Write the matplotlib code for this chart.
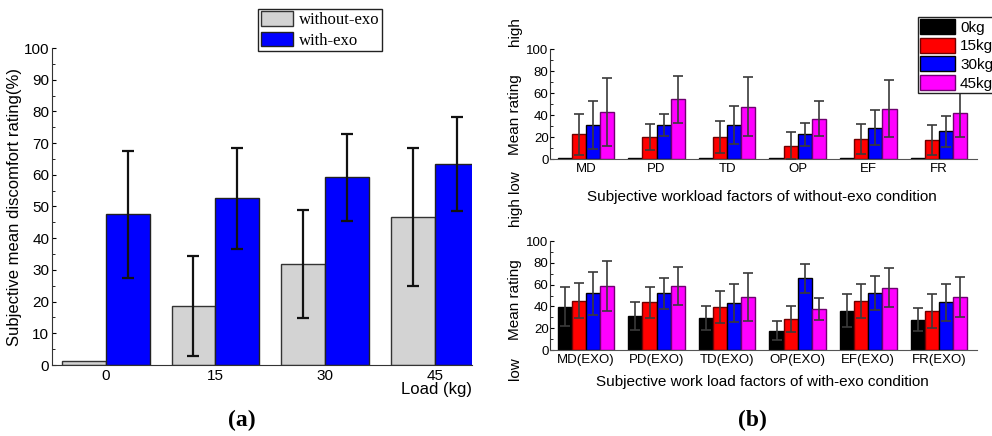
import numpy as np
import matplotlib
matplotlib.use('Agg')
import matplotlib.pyplot as plt
from matplotlib.patches import Patch

plt.rcParams['font.family'] = ['Liberation Sans', 'DejaVu Sans']

# panel (a) data
loads = ['0', '15', '30', '45']
without_exo = [1.2, 18.5, 31.8, 46.7]
without_err = [0.0, 15.8, 17.0, 21.8]
with_exo = [47.5, 52.6, 59.2, 63.4]
with_err = [20.0, 16.0, 13.8, 14.8]

# panel (b) data
factors_top = ['MD', 'PD', 'TD', 'OP', 'EF', 'FR']
factors_bot = ['MD(EXO)', 'PD(EXO)', 'TD(EXO)', 'OP(EXO)', 'EF(EXO)', 'FR(EXO)']
kg_labels = ['0kg', '15kg', '30kg', '45kg']

top_0 = [1.0, 1.0, 1.0, 1.0, 1.0, 1.0]
top_0_err = [0.0, 0.0, 0.0, 0.0, 0.0, 0.0]
top_15 = [22.3, 19.9, 19.9, 12.2, 18.3, 17.4]
top_15_err = [18.8, 11.9, 14.5, 12.6, 13.4, 13.6]
top_30 = [30.9, 30.9, 30.9, 22.3, 28.4, 25.1]
top_30_err = [21.7, 9.7, 17.1, 10.8, 15.7, 14.3]
top_45 = [42.8, 54.1, 47.7, 36.4, 45.6, 41.9]
top_45_err = [30.9, 21.3, 26.4, 15.9, 25.9, 22.0]

bot_0 = [39.8, 31.2, 29.4, 17.7, 36.1, 27.8]
bot_0_err = [18.0, 13.1, 11.0, 8.9, 15.3, 10.7]
bot_15 = [45.3, 43.7, 39.4, 28.1, 45.3, 36.1]
bot_15_err = [16.4, 14.4, 14.8, 11.9, 15.5, 15.7]
bot_30 = [52.0, 52.0, 42.8, 65.7, 52.0, 43.7]
bot_30_err = [19.9, 14.5, 17.3, 13.4, 15.6, 17.2]
bot_45 = [58.7, 58.7, 48.9, 37.6, 57.2, 48.6]
bot_45_err = [23.3, 17.3, 22.2, 9.8, 18.0, 18.0]

kg_colors = ['#000000', '#ff0000', '#0000ff', '#ff00ff']
kg_edges = ['#000000', '#700000', '#000000', '#700070']

fig = plt.figure(figsize=(9.92, 4.36), dpi=100)

# ---------- (a)
ax = fig.add_axes([52/992, 71/436, 420/992, 317/436])
x = np.arange(len(loads))
w = 0.4
ax.bar(x - w/2, without_exo, w, color='#d3d3d3', edgecolor='#333333', linewidth=1.0,
       label='without-exo', zorder=2)
ax.bar(x + w/2, with_exo, w, color='#0000ff', edgecolor='#222222', linewidth=1.0,
       label='with-exo', zorder=2)
err_idx = [i for i in range(len(loads)) if without_err[i] > 0]
ax.errorbar(x[err_idx] - w/2, np.array(without_exo)[err_idx], yerr=np.array(without_err)[err_idx],
            fmt='none', ecolor='#111111', elinewidth=1.6, capsize=4.5, capthick=1.6, zorder=3)
ax.errorbar(x + w/2, with_exo, yerr=with_err, fmt='none', ecolor='#111111',
            elinewidth=1.6, capsize=4.5, capthick=1.6, zorder=3)
ax.set_xlim(-0.49, 3.34)
ax.set_ylim(0, 100)
ax.set_yticks(np.arange(0, 101, 10))
ax.set_yticks(np.arange(5, 100, 10), minor=True)
ax.set_xticks(x)
ax.set_xticklabels(loads)
ax.tick_params(axis='y', direction='in', length=3, labelsize=11, pad=2)
ax.tick_params(axis='y', which='minor', direction='in', length=2)
ax.tick_params(axis='x', length=0, labelsize=11, pad=3)
for s in ['top', 'right']:
    ax.spines[s].set_visible(False)
ax.spines['left'].set_color('#333333')
ax.spines['bottom'].set_color('#333333')
ax.set_ylabel('Subjective mean discomfort rating(%)', fontsize=12, labelpad=1)
fig.text(472/992, 1 - 389/436, 'Load (kg)', ha='right', va='center', fontsize=12)
fig.text(242/992, 1 - 420/436, '(a)', ha='center', va='center', fontsize=17,
         fontweight='bold', family=['Liberation Serif', 'DejaVu Serif'])
leg = fig.legend(handles=[Patch(facecolor='#d3d3d3', edgecolor='#333333', label='without-exo'),
                          Patch(facecolor='#0000ff', edgecolor='#222222', label='with-exo')],
                 loc='upper left', bbox_to_anchor=(258/992, 1 - 9/436),
                 prop={'family': ['Liberation Serif', 'DejaVu Serif'], 'size': 12},
                 frameon=True, fancybox=False, edgecolor='#222222', framealpha=1,
                 handlelength=1.95, handleheight=0.95, labelspacing=0.2,
                 borderpad=0.15, handletextpad=0.35, borderaxespad=0)
leg.get_frame().set_linewidth(1.0)


# ---------- (b)
def panel(rect, names, vals, errs, xlabel, ylab_pos, xlab_y):
    axb = fig.add_axes(rect)
    xx = np.arange(len(names))
    bw = 0.2
    for k in range(4):
        pos = xx + (k - 1.5) * bw
        axb.bar(pos, vals[k], bw, color=kg_colors[k], edgecolor=kg_edges[k],
                linewidth=1.0, zorder=2)
        e = np.array(errs[k])
        m = e > 0
        if m.any():
            axb.errorbar(pos[m], np.array(vals[k])[m], yerr=e[m], fmt='none',
                         ecolor='#3a3a3a', elinewidth=1.2, capsize=3.5, capthick=1.2, zorder=3)
    axb.set_xlim(-0.51, 5.54)
    axb.set_ylim(0, 100)
    axb.set_yticks(np.arange(0, 101, 20))
    axb.set_yticks(np.arange(10, 100, 20), minor=True)
    axb.set_xticks(xx)
    axb.set_xticklabels(names)
    axb.tick_params(axis='y', direction='in', length=3, labelsize=9.5, pad=1)
    axb.tick_params(axis='y', which='minor', direction='in', length=2)
    axb.tick_params(axis='x', length=0, labelsize=9.5, pad=3)
    for s in ['top', 'right']:
        axb.spines[s].set_visible(False)
    axb.spines['left'].set_color('#333333')
    axb.spines['bottom'].set_color('#555555')
    fig.text(762/992, 1 - xlab_y/436, xlabel, ha='center', va='center', fontsize=11)
    for txt, yy in zip(['high', 'Mean rating', 'low'], ylab_pos):
        fig.text(515/992, 1 - yy/436, txt, rotation=90, ha='center', va='center', fontsize=11)
    return axb


panel([550/992, 277/436, 427/992, 110/436], factors_top,
      [top_0, top_15, top_30, top_45], [top_0_err, top_15_err, top_30_err, top_45_err],
      'Subjective workload factors of without-exo condition', [32, 115, 182], 197)
panel([550/992, 86/436, 427/992, 109/436], factors_bot,
      [bot_0, bot_15, bot_30, bot_45], [bot_0_err, bot_15_err, bot_30_err, bot_45_err],
      'Subjective work load factors of with-exo condition', [212, 300, 369], 382)

fig.text(752/992, 1 - 420/436, '(b)', ha='center', va='center', fontsize=17,
         fontweight='bold', family=['Liberation Serif', 'DejaVu Serif'])

leg2 = fig.legend(handles=[Patch(facecolor=kg_colors[k], edgecolor=kg_edges[k], label=kg_labels[k])
                           for k in range(4)],
                  loc='upper left', bbox_to_anchor=(918/992, 1 - 17/436),
                  prop={'size': 11}, frameon=True, fancybox=False, edgecolor='#222222',
                  framealpha=1, handlelength=2.3, handleheight=1.1, labelspacing=0.2,
                  borderpad=0.15, handletextpad=0.3, borderaxespad=0)
leg2.get_frame().set_linewidth(1.0)

fig.savefig('out.png', dpi=100)
